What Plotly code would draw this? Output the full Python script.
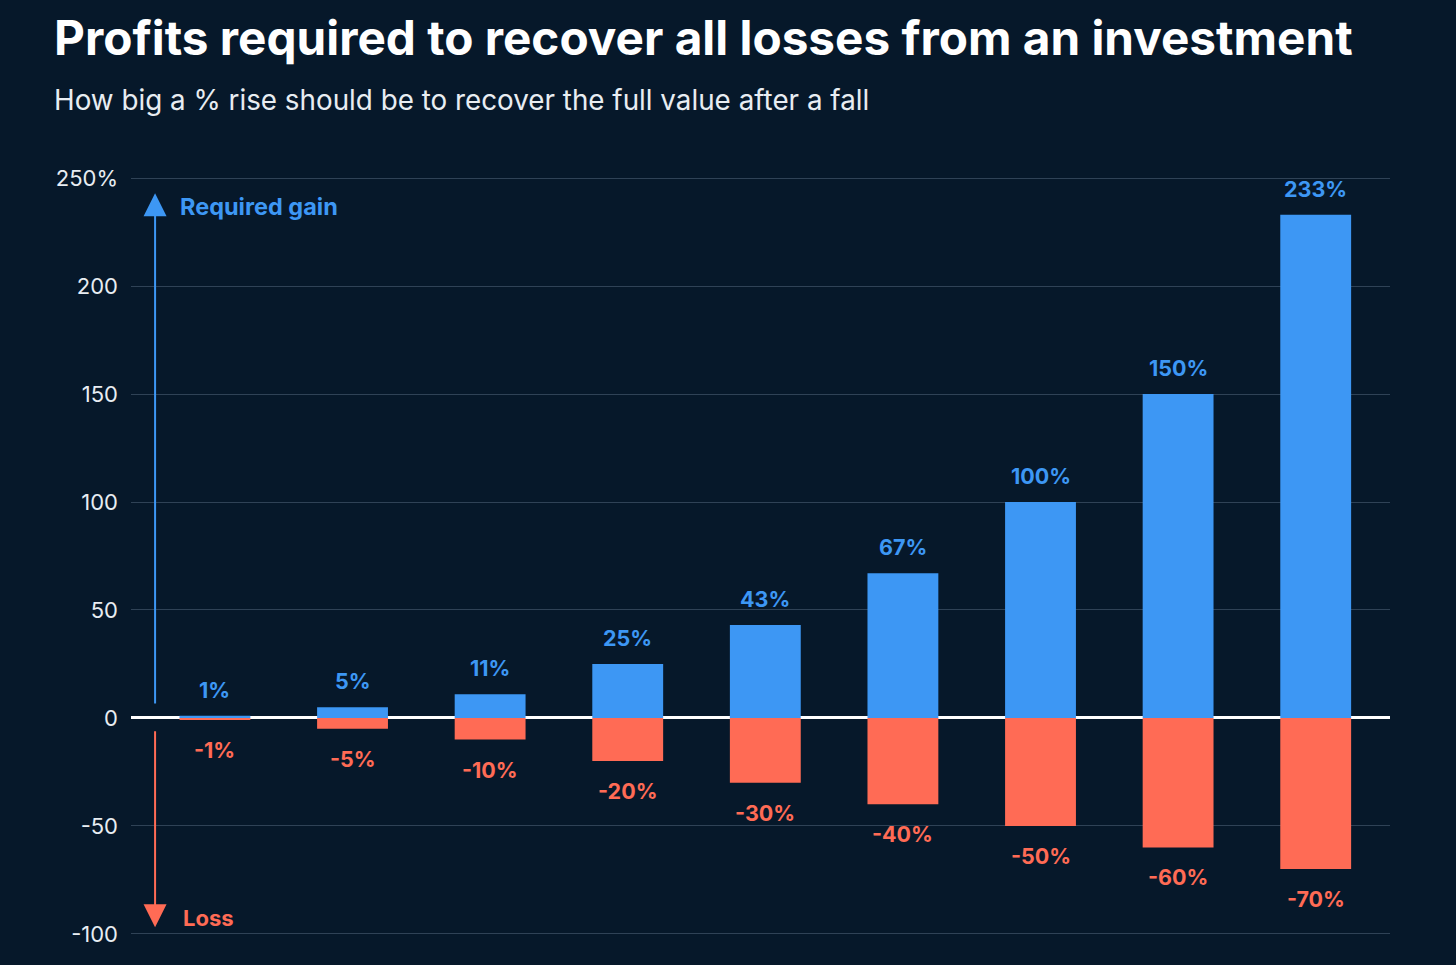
import plotly.graph_objects as go

categories = ["1", "5", "10", "20", "30", "40", "50", "60", "70"]
required_gain = [1, 5, 11, 25, 43, 67, 100, 150, 233]
loss = [-1, -5, -10, -20, -30, -40, -50, -60, -70]
gain_labels = ["1%", "5%", "11%", "25%", "43%", "67%", "100%", "150%", "233%"]
loss_labels = ["-1%", "-5%", "-10%", "-20%", "-30%", "-40%", "-50%", "-60%", "-70%"]
tick_vals = [250, 200, 150, 100, 50, 0, -50, -100]
tick_text = ["250%", "200", "150", "100", "50", "0", "-50", "-100"]

BG = "#06182a"
BLUE = "#3d97f4"
RED = "#ff6b55"
FONT = "Inter"

xs = list(range(len(categories)))

fig = go.Figure()
fig.add_trace(go.Bar(x=xs, y=loss, marker=dict(color=RED, line=dict(width=0)), width=0.515,
                     hoverinfo="skip"))
fig.add_trace(go.Bar(x=xs, y=required_gain, marker=dict(color=BLUE, line=dict(width=0)), width=0.515,
                     hoverinfo="skip"))

annotations = []
for x, v, t in zip(xs, required_gain, gain_labels):
    annotations.append(dict(x=x, y=v, text=t, showarrow=False, yanchor="bottom", yshift=11,
                            font=dict(family=FONT, size=21.5, color=BLUE, weight="bold")))
for x, v, t in zip(xs, loss, loss_labels):
    annotations.append(dict(x=x, y=v, text=t, showarrow=False, yanchor="top", yshift=-15,
                            font=dict(family=FONT, size=21.5, color=RED, weight="bold")))

# direction arrows
annotations.append(dict(x=-0.435, y=243, ax=-0.435, ay=6, xref="x", yref="y", axref="x", ayref="y",
                        showarrow=True, arrowhead=2, arrowsize=2.3, arrowwidth=2, arrowcolor=BLUE, text=""))
annotations.append(dict(x=-0.435, y=-97, ax=-0.435, ay=-5.5, xref="x", yref="y", axref="x", ayref="y",
                        showarrow=True, arrowhead=2, arrowsize=2.3, arrowwidth=2, arrowcolor=RED, text=""))
annotations.append(dict(x=-0.265, y=237, xref="x", yref="y", text="Required gain", showarrow=False,
                        xanchor="left", yanchor="middle",
                        font=dict(family=FONT, size=23.5, color=BLUE, weight="bold")))
annotations.append(dict(x=-0.245, y=-92.5, xref="x", yref="y", text="Loss", showarrow=False,
                        xanchor="left", yanchor="middle",
                        font=dict(family=FONT, size=22, color=RED, weight="bold")))

# plot area: 176..936 px vertically for y in [-101, 251]
PLOT_TOP = 176
PLOT_H = 760

# title & subtitle
annotations.append(dict(text="<b>Profits required to recover all losses from an investment</b>",
                        xref="paper", yref="paper", x=-(131 - 52) / 1259, y=1 + (PLOT_TOP - 38) / PLOT_H,
                        xanchor="left", yanchor="middle", showarrow=False,
                        font=dict(family=FONT, size=47.7, color="#ffffff")))
annotations.append(dict(text="How big a % rise should be to recover the full value after a fall",
                        xref="paper", yref="paper", x=-(131 - 52) / 1259, y=1 + (PLOT_TOP - 100) / PLOT_H,
                        xanchor="left", yanchor="middle", showarrow=False,
                        font=dict(family=FONT, size=27.8, color="#e8edf2")))

fig.update_layout(
    width=1456, height=965,
    paper_bgcolor=BG, plot_bgcolor=BG,
    margin=dict(l=131, r=66, t=PLOT_TOP, b=965 - PLOT_TOP - PLOT_H),
    barmode="relative",
    showlegend=False,
    annotations=annotations,
    font=dict(family=FONT, color="#ffffff"),
)

fig.update_xaxes(range=[-0.61, 8.54], showgrid=False, showticklabels=False, zeroline=False,
                 showline=False, ticks="")
fig.update_yaxes(range=[-101, 251], tickvals=tick_vals, ticktext=tick_text,
                 showgrid=True, gridcolor="#2f4256", gridwidth=1,
                 zeroline=True, zerolinecolor="#ffffff", zerolinewidth=2.5,
                 tickfont=dict(family=FONT, size=22, color="#e8edf2"),
                 ticklabelstandoff=12, showline=False, ticks="")

fig.write_html("out.html", config={"displayModeBar": False})

# remove the default page margin so the figure fills the window exactly
with open("out.html", "r", encoding="utf-8") as f:
    html = f.read()
html = html.replace("<head>", "<head><style>html,body{margin:0;padding:0;background:#06182a;}</style>", 1)
with open("out.html", "w", encoding="utf-8") as f:
    f.write(html)
